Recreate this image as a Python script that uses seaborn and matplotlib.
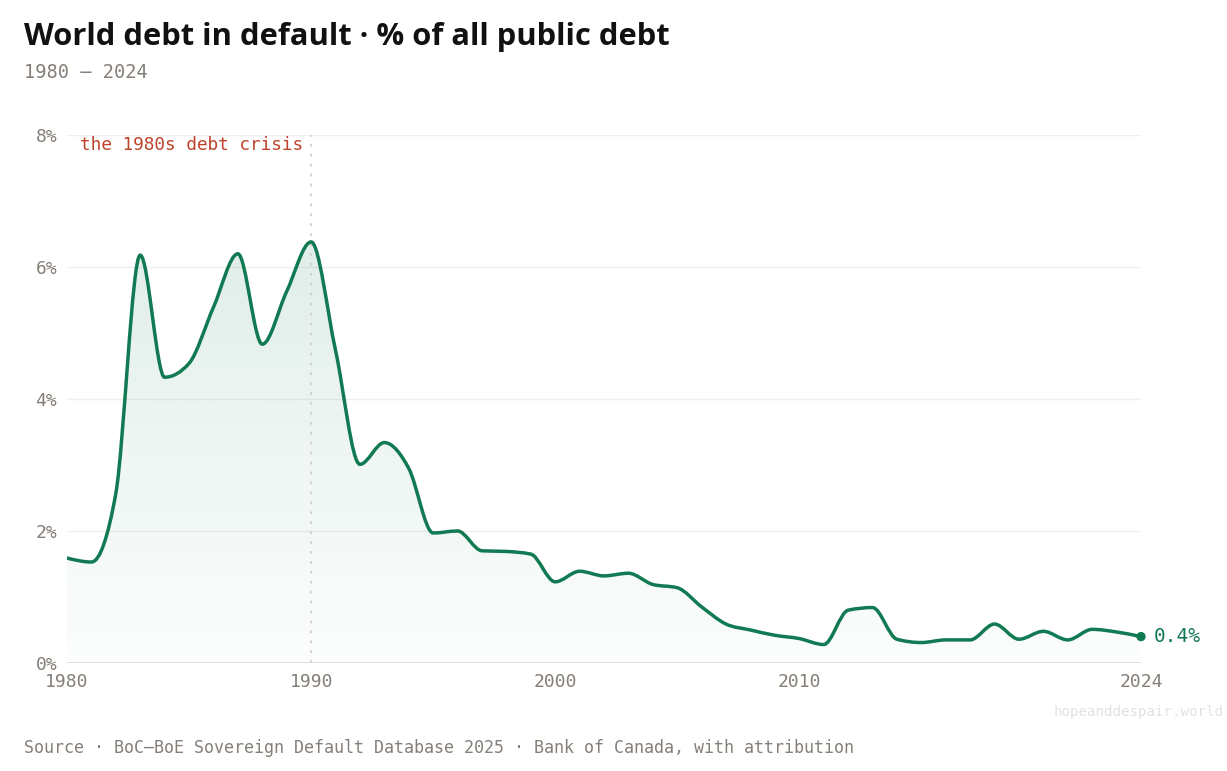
import numpy as np
import pandas as pd
import matplotlib
matplotlib.use("Agg")
import matplotlib.pyplot as plt
from matplotlib.path import Path
from matplotlib.patches import PathPatch
import seaborn as sns

# yearly share of world public debt in default (%)
years = list(range(1980, 2025))
share = [1.59, 1.53, 2.57, 6.18, 4.33, 4.54, 5.39, 6.20, 4.83, 5.63,
         6.38, 4.74, 3.01, 3.34, 2.95, 1.97, 2.00, 1.70, 1.69, 1.65,
         1.23, 1.39, 1.32, 1.36, 1.19, 1.14, 0.85, 0.59, 0.50, 0.42,
         0.37, 0.28, 0.80, 0.84, 0.36, 0.31, 0.35, 0.35, 0.59, 0.36,
         0.48, 0.35, 0.51, 0.47, 0.40]
x_ticks = [1980, 1990, 2000, 2010, 2024]
y_ticks = [0, 2, 4, 6, 8]

df = pd.DataFrame({"year": years, "share": share})

LINE = "#117a52"
RED = "#c0432b"
GREY = "#857f78"
MONO = "DejaVu Sans Mono"


def monotone_path(x, y):
    # d3.curveMonotoneX style cubic bezier through the points
    x = np.asarray(x, float)
    y = np.asarray(y, float)
    n = len(x)
    h = np.diff(x)
    s = np.diff(y) / h
    t = np.zeros(n)
    for i in range(1, n - 1):
        p = (s[i - 1] * h[i] + s[i] * h[i - 1]) / (h[i - 1] + h[i])
        t[i] = (np.sign(s[i - 1]) + np.sign(s[i])) * min(abs(s[i - 1]), abs(s[i]), 0.5 * abs(p))
    t[0] = (3 * s[0] - t[1]) / 2
    t[-1] = (3 * s[-1] - t[-2]) / 2
    verts = [(x[0], y[0])]
    codes = [Path.MOVETO]
    for i in range(n - 1):
        dx = h[i] / 3
        verts += [(x[i] + dx, y[i] + dx * t[i]),
                  (x[i + 1] - dx, y[i + 1] - dx * t[i + 1]),
                  (x[i + 1], y[i + 1])]
        codes += [Path.CURVE4] * 3
    return verts, codes


sns.set_theme(style="white")
plt.rcParams["font.family"] = ["Open Sans", "DejaVu Sans"]

fig = plt.figure(figsize=(12.27, 7.71), dpi=100)
ax = fig.add_axes([67 / 1227, 108 / 771, (1141 - 67) / 1227, (663 - 135) / 771])

verts, codes = monotone_path(df["year"], df["share"])

# gradient area under the curve
fill_verts = verts + [(years[-1], 0), (years[0], 0), verts[0]]
fill_codes = codes + [Path.LINETO, Path.LINETO, Path.CLOSEPOLY]
fill_patch = PathPatch(Path(fill_verts, fill_codes), facecolor="none", edgecolor="none")
ax.add_patch(fill_patch)
rgb = matplotlib.colors.to_rgb(LINE)
grad = np.zeros((256, 1, 4))
grad[:, 0, :3] = rgb
grad[:, 0, 3] = np.linspace(0.13, 0.015, 256)
img = ax.imshow(grad, extent=[1980, 2024, 0, 6.5], origin="upper",
                aspect="auto", zorder=1)
img.set_clip_path(fill_patch)
ax.set_xlim(1980, 2024)
ax.set_ylim(0, 8)

for yv in y_ticks[1:]:
    ax.axhline(yv, color="#f0efed", lw=1, zorder=0)
ax.axhline(0, color="#dddbd8", lw=1.2, zorder=2)

ax.axvline(1990, color="#cfcfcf", lw=1.3, ls=(0, (1.5, 4)), zorder=1)

ax.add_patch(PathPatch(Path(verts, codes), facecolor="none", edgecolor=LINE,
                       lw=2.5, zorder=3, capstyle="round", joinstyle="round"))

last = df.iloc[[-1]]
sns.scatterplot(data=last, x="year", y="share", color=LINE, s=45,
                edgecolor="none", zorder=4, ax=ax, clip_on=False)
ax.annotate(f"{share[-1]:.1f}%", (years[-1], share[-1]), xytext=(9, 0),
            textcoords="offset points", va="center", ha="left",
            color=LINE, fontsize=14, family=MONO, annotation_clip=False)

ax.annotate("the 1980s debt crisis", (1990, 8), xytext=(-6, -7),
            textcoords="offset points", ha="right", va="center",
            color=RED, fontsize=12.8, family=MONO)

for s_ in ax.spines.values():
    s_.set_visible(False)
ax.set_xticks(x_ticks)
ax.set_xticklabels([str(v) for v in x_ticks], family=MONO, fontsize=13, color=GREY)
ax.set_yticks(y_ticks)
ax.set_yticklabels([f"{v}%" for v in y_ticks], family=MONO, fontsize=13, color=GREY)
ax.tick_params(axis="both", length=0)
ax.tick_params(axis="x", pad=7)
ax.tick_params(axis="y", pad=7)
for lab in ax.get_yticklabels():
    lab.set_verticalalignment("center_baseline")
ax.set_xlabel("")
ax.set_ylabel("")
ax.grid(False)

fig.text(24 / 1227, 1 - 45 / 771, "World debt in default · % of all public debt",
         fontsize=22.2, fontweight="bold", color="#111111", va="baseline")
fig.text(24 / 1227, 1 - 78 / 771, "1980 — 2024", fontsize=13.4, family=MONO,
         color=GREY, va="baseline")
fig.text(1224 / 1227, 1 - 716 / 771, "hopeanddespair.world", fontsize=10.2,
         family=MONO, color="#e4e2df", ha="right", va="baseline")
fig.text(24 / 1227, 1 - 753 / 771,
         "Source · BoC–BoE Sovereign Default Database 2025 · Bank of Canada, with attribution",
         fontsize=12, family=MONO, color=GREY, va="baseline")

fig.savefig("out.png", dpi=100, facecolor="white")
